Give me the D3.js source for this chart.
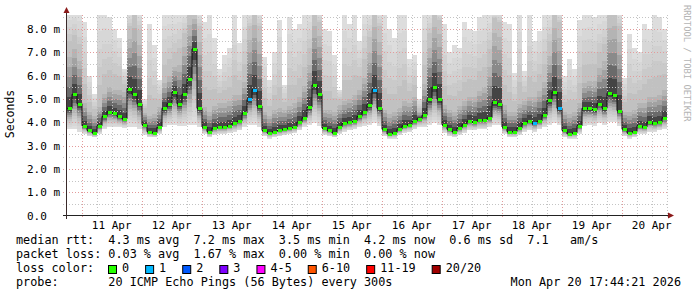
<!DOCTYPE html>
<html>
<head>
<meta charset="utf-8">
<title>smokeping</title>
<script src="https://cdn.jsdelivr.net/npm/d3@7"></script>
<style>
  body { margin: 0; background: #fff; }
  text { font-family: "DejaVu Sans Mono", monospace; white-space: pre; fill: #000; }
</style>
</head>
<body>
<script>
// median rtt per 2h step (ms), 10 days, from Apr 10 18:08
var median = [4.6,5.2,4.8,3.85,3.65,3.55,3.85,4.25,4.45,4.4,
  4.25,4.15,5.45,5.2,4.8,3.9,3.6,3.55,3.8,4.6,
  4.8,5.3,4.8,5.2,5.85,7.15,4.6,3.8,3.6,3.75,
  3.8,3.8,3.85,3.95,4.05,4.4,5.0,5.4,4.7,3.65,
  3.55,3.6,3.65,3.7,3.75,3.8,4.0,4.2,4.65,5.6,
  5.2,3.75,3.65,3.55,3.8,3.95,4.0,4.05,4.25,4.45,
  4.75,5.4,4.6,3.7,3.5,3.55,3.7,3.85,3.9,4.05,
  4.15,4.3,5.0,5.5,5.0,3.9,3.7,3.6,3.75,3.9,
  4.05,4.0,4.1,4.1,4.2,4.85,4.8,3.8,3.6,3.6,
  3.75,3.95,4.05,3.95,4.05,4.3,4.95,5.3,4.6,3.65,
  3.5,3.55,3.85,4.6,4.6,4.55,4.8,4.6,5.25,5.15,
  4.5,3.7,3.55,3.6,3.85,3.8,4.0,3.95,4.0,4.2];

// lowest ping of each step
var pingLo = [3.7,3.7,3.6,3.5,3.4,3.35,3.5,3.7,3.8,3.8,
  3.8,3.75,3.8,3.8,3.7,3.45,3.35,3.35,3.5,3.8,
  3.9,3.9,3.85,3.85,3.9,3.9,3.8,3.5,3.35,3.45,
  3.5,3.5,3.55,3.6,3.65,3.8,3.9,3.9,3.8,3.4,
  3.3,3.35,3.4,3.45,3.5,3.55,3.65,3.8,3.9,3.95,
  3.85,3.45,3.4,3.35,3.5,3.6,3.65,3.7,3.8,3.85,
  3.9,3.95,3.85,3.4,3.3,3.3,3.45,3.55,3.6,3.7,
  3.8,3.8,3.9,3.95,3.9,3.55,3.4,3.35,3.45,3.55,
  3.65,3.65,3.7,3.7,3.8,3.9,3.9,3.5,3.35,3.35,
  3.45,3.6,3.65,3.6,3.7,3.8,3.9,3.95,3.9,3.35,
  3.3,3.3,3.5,3.85,3.9,3.85,3.95,3.9,4.0,4.0,
  3.85,3.4,3.3,3.35,3.5,3.5,3.6,3.6,3.65,3.7];

// upper edge of the dense part of the smoke
var pingQ3 = [7.2,7.5,7.0,5.0,4.6,4.4,4.8,5.4,5.7,5.6,
  5.6,5.5,8.0,8.6,7.8,4.5,4.4,4.5,4.8,5.9,
  6.2,6.6,6.8,7.6,8.6,8.7,8.0,4.8,4.6,4.9,
  5.0,5.0,5.1,5.4,5.4,6.0,8.0,8.7,8.0,4.6,
  4.4,4.7,4.8,4.7,4.9,5.0,5.3,5.8,6.8,8.6,
  8.2,4.7,4.7,4.6,4.9,5.1,5.2,5.4,5.6,6.2,
  7.4,8.6,8.0,4.7,4.5,4.6,4.8,5.1,5.0,5.3,
  4.5,5.9,7.6,8.6,8.3,4.9,4.7,4.6,4.9,5.1,
  5.3,5.3,5.6,5.8,6.8,8.4,8.2,4.9,4.6,4.6,
  5.0,5.1,5.3,5.3,5.6,6.0,7.2,8.6,8.2,4.6,
  4.5,4.6,5.0,5.9,6.0,6.0,6.6,7.0,8.6,8.7,
  8.0,4.6,4.6,4.7,5.0,5.0,5.3,5.3,5.4,5.6];

// highest ping of each step
var pingHi = [8.7,8.7,8.7,8.3,6.0,5.2,8.7,8.7,8.5,8.0,
  7.6,6.3,8.7,8.7,8.7,5.0,8.2,7.3,5.8,8.7,
  8.7,8.6,8.7,8.7,8.7,8.7,8.7,8.3,8.6,7.6,
  6.3,6.9,7.2,8.6,7.4,8.6,8.7,8.7,8.7,6.8,
  5.8,7.0,8.4,5.6,8.5,8.0,8.2,8.6,8.7,8.7,
  8.7,8.0,7.9,6.9,5.4,8.6,8.2,8.6,7.5,8.7,
  8.7,8.7,8.7,8.6,8.0,7.6,8.6,8.6,6.7,6.9,
  5.0,8.6,8.7,8.7,8.7,8.2,7.0,7.3,7.2,8.3,
  8.0,7.9,8.5,8.6,8.6,8.7,8.7,8.3,8.2,6.1,
  8.6,6.2,8.6,7.5,7.9,8.6,8.7,8.7,8.7,6.0,
  6.7,6.3,8.4,8.6,8.6,8.5,8.6,8.7,8.7,8.7,
  8.7,5.9,7.8,7.2,7.0,8.2,8.0,8.6,8.5,8.0];

// lost pings of 20 per step
var loss = [0,0,0,0,0,0,0,0,0,0, 0,0,0,0,0,0,0,0,0,0,
  0,0,0,0,0,0,0,0,0,0, 0,0,0,0,0,0,1,1,0,0,
  0,0,0,0,0,0,0,0,0,0, 0,0,0,0,0,0,0,0,0,0,
  0,1,0,0,0,0,0,0,0,0, 0,0,0,0,0,0,0,0,0,0,
  0,0,0,0,0,0,0,0,0,0, 0,0,0,1,0,0,0,0,1,0,
  0,0,0,0,0,0,0,0,0,0, 0,0,0,0,0,0,0,0,0,0];

var yMajor = [1,2,3,4,5,6,7,8];
var yMinor = [0.5,1.5,2.5,3.5,4.5,5.5,6.5,7.5,8.5];
var yLabels = ["0.0  ","1.0 m","2.0 m","3.0 m","4.0 m","5.0 m","6.0 m","7.0 m","8.0 m"];

// smoke shades, outer to inner
var smokeGrays = [221,215,209,202,193,180,162,138,106,68];

var lossLimits = [1,2,3,4,6,11,20];
var lossColors = ["#26ff00","#00b8ff","#0059ff","#7e00ff","#ff00ff","#ff5500","#ff0000","#a00000"];
var lossNames = ["0","1","2","3","4-5","6-10","11-19","20/20"];

var legendLines = [
  "median rtt:  4.3 ms avg  7.2 ms max  3.5 ms min  4.2 ms now  0.6 ms sd  7.1   am/s",
  "packet loss: 0.03 % avg  1.67 % max  0.00 % min  0.00 % now",
  "loss color:",
  "probe:       20 ICMP Echo Pings (56 Bytes) every 300s"
];
var stamp = "Mon Apr 20 17:44:21 2026";

var tStart = new Date(2026, 3, 10, 18, 8),
    tEnd = new Date(2026, 3, 20, 18, 8);

var W = 697, H = 297;
var svg = d3.select("body").append("svg")
  .attr("width", W).attr("height", H);

var x = d3.scaleTime().domain([tStart, tEnd]).range([67, 667]);
var y = d3.scaleLinear().domain([0, 8.6]).range([215.5, 15.1]);
var lossColor = d3.scaleThreshold().domain(lossLimits).range(lossColors);

var steps = median.map(function (d, i) { return d3.timeHour.offset(tStart, 2 * i); });
function x0(i) { return x(steps[i]); }
function x1(i) { return x(d3.timeHour.offset(steps[i], 2)); }

svg.append("clipPath").attr("id", "plot")
  .append("rect").attr("x", 67).attr("y", y(8.6)).attr("width", 600).attr("height", y(0) - y(8.6));

// smoke: 10 layers, outer light to inner dark
function layerTop(i, j) {
  return j < 5 ? pingHi[i] + (pingQ3[i] - pingHi[i]) * j / 5
               : pingQ3[i] - (pingQ3[i] - median[i]) * (j - 4) / 6.2;
}
function layerBot(i, j) {
  return pingLo[i] + (median[i] - pingLo[i]) * j / 10.5;
}
var smoke = svg.append("g").attr("clip-path", "url(#plot)").attr("shape-rendering", "crispEdges");
smokeGrays.forEach(function (g, j) {
  smoke.append("g").selectAll("rect").data(median).enter().append("rect")
    .attr("x", function (d, i) { return x0(i); })
    .attr("width", function (d, i) { return x1(i) - x0(i); })
    .attr("y", function (d, i) { return y(layerTop(i, j)); })
    .attr("height", function (d, i) { return Math.max(0, y(layerBot(i, j)) - y(layerTop(i, j))); })
    .attr("fill", d3.rgb(g, g, g));
});

// grid
var grid = svg.append("g").attr("shape-rendering", "crispEdges").attr("stroke-dasharray", "1,2");
grid.selectAll(".hmin").data(yMinor).enter().append("line")
  .attr("x1", 63).attr("x2", 668)
  .attr("y1", function (d) { return Math.round(y(d)) + 0.5; })
  .attr("y2", function (d) { return Math.round(y(d)) + 0.5; })
  .attr("stroke", "#c4c4c4");
var sixH = d3.timeHour.every(6).range(tStart, tEnd).filter(function (t) { return t.getHours() !== 0; });
grid.selectAll(".vmin").data(sixH).enter().append("line")
  .attr("x1", function (d) { return Math.round(x(d)) + 0.5; })
  .attr("x2", function (d) { return Math.round(x(d)) + 0.5; })
  .attr("y1", 15).attr("y2", 219)
  .attr("stroke", "#c4c4c4");
grid.selectAll(".hmaj").data(yMajor).enter().append("line")
  .attr("x1", 63).attr("x2", 668)
  .attr("y1", function (d) { return Math.round(y(d)) + 0.5; })
  .attr("y2", function (d) { return Math.round(y(d)) + 0.5; })
  .attr("stroke", "#e39b9b");
var days = d3.timeDay.range(tStart, tEnd);
grid.selectAll(".vmaj").data(days).enter().append("line")
  .attr("x1", function (d) { return Math.round(x(d)) + 0.5; })
  .attr("x2", function (d) { return Math.round(x(d)) + 0.5; })
  .attr("y1", 15).attr("y2", 219)
  .attr("stroke", "#e39b9b");

// median: black step line + loss-coloured segments
var medPath = d3.line()
  .x(function (d) { return d[0]; })
  .y(function (d) { return d[1]; })
  .curve(d3.curveStepAfter);
var pts = median.map(function (d, i) { return [x0(i), y(d)]; });
pts.push([x1(median.length - 1), y(median[median.length - 1])]);
svg.append("path").attr("d", medPath(pts))
  .attr("fill", "none").attr("stroke", "#111").attr("stroke-width", 1);
svg.append("g").attr("shape-rendering", "crispEdges")
  .selectAll("rect").data(median).enter().append("rect")
  .attr("x", function (d, i) { return x0(i) + 1; })
  .attr("width", function (d, i) { return x1(i) - x0(i) - 1; })
  .attr("y", function (d) { return Math.round(y(d)) - 1; })
  .attr("height", 3)
  .attr("fill", function (d, i) { return lossColor(loss[i]); });

// axes
svg.append("line").attr("x1", 63).attr("x2", 669).attr("y1", 215.5).attr("y2", 215.5)
  .attr("stroke", "#222");
svg.append("line").attr("x1", 66.5).attr("x2", 66.5).attr("y1", 219).attr("y2", 12)
  .attr("stroke", "#3a2a2a");
svg.append("path").attr("d", "M63.5,13L66.5,7L69.5,13Z").attr("fill", "#8b1a1a");
svg.append("path").attr("d", "M668,212.5L674,215.5L668,218.5Z").attr("fill", "#8b1a1a");

svg.append("g").selectAll("text").data(yLabels).enter().append("text")
  .attr("x", 27)
  .attr("y", function (d, i) { return y(i) + 4; })
  .attr("font-size", "11px")
  .text(function (d) { return d; });

svg.append("g").selectAll("text").data(days).enter().append("text")
  .attr("x", function (d) { return x(d3.timeHour.offset(d, 12)); })
  .attr("y", 229)
  .attr("text-anchor", "middle")
  .attr("font-size", "11px")
  .text(function (d) { return d3.timeFormat("%d %b")(d); });

svg.append("text")
  .attr("transform", "translate(14,114) rotate(-90)")
  .attr("text-anchor", "middle")
  .attr("font-size", "11.5px")
  .text("Seconds");

svg.append("text")
  .attr("transform", "translate(684,5) rotate(90)")
  .attr("font-size", "8.8px")
  .style("fill", "#b4b4b4")
  .text("RRDTOOL / TOBI OETIKER");

// legend
var leg = svg.append("g").attr("font-size", "11.8px");
leg.selectAll("text.l").data(legendLines).enter().append("text")
  .attr("x", 16)
  .attr("y", function (d, i) { return 244 + i * 14; })
  .text(function (d) { return d; });

var cx = 108;
lossNames.forEach(function (n, k) {
  leg.append("rect").attr("x", cx + 0.5).attr("y", 265.5).attr("width", 8).attr("height", 8)
    .attr("fill", lossColors[k]).attr("stroke", "#000");
  var t = leg.append("text").attr("x", cx + 14).attr("y", 272).text(n);
  cx = cx + 14 + t.node().getComputedTextLength() + 16;
});

leg.append("text").attr("x", 681).attr("y", 286).attr("text-anchor", "end").text(stamp);
</script>
</body>
</html>
